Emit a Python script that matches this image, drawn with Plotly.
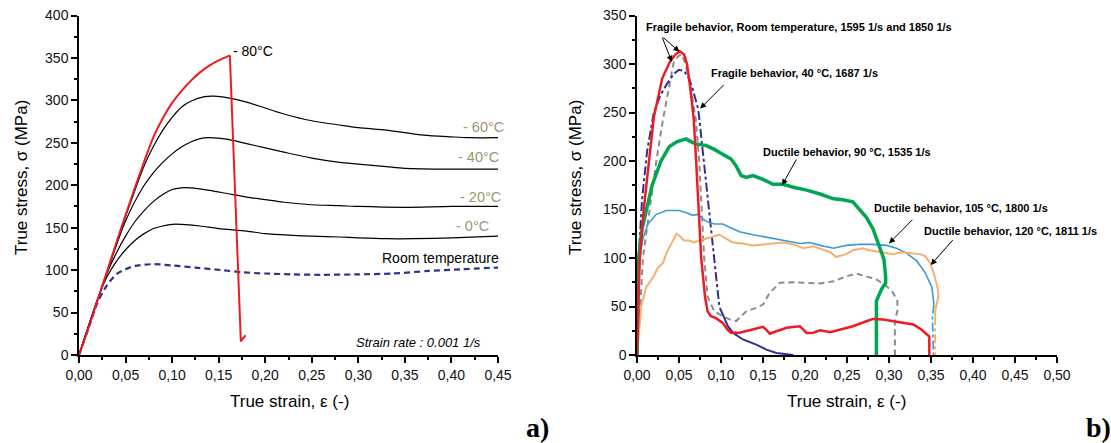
import plotly.graph_objects as go

# ---------------- Panel a) : quasi-static curves ----------------
strain_m80 = [0, 0.01, 0.02, 0.03, 0.04, 0.05, 0.06, 0.07, 0.08, 0.09, 0.10, 0.11, 0.12, 0.13, 0.14, 0.15, 0.162, 0.1738, 0.1788]
stress_m80 = [0, 31, 65, 98, 132, 165, 197, 228, 257, 279, 297, 311, 323, 333, 341, 347, 353, 16, 23]

strain_m60 = [0, 0.03, 0.05, 0.07, 0.08, 0.09, 0.10, 0.11, 0.12, 0.135, 0.145, 0.16, 0.18, 0.20, 0.22, 0.25, 0.28, 0.30, 0.33, 0.35, 0.37, 0.40, 0.42, 0.45]
stress_m60 = [0, 98, 163, 223, 246, 265, 280, 292, 299, 304.5, 305, 303, 298, 291, 284, 276, 271, 268, 265, 262, 259, 257, 256, 256]

strain_m40 = [0, 0.03, 0.05, 0.07, 0.08, 0.09, 0.10, 0.11, 0.12, 0.13, 0.14, 0.16, 0.18, 0.20, 0.22, 0.25, 0.28, 0.30, 0.33, 0.35, 0.40, 0.45]
stress_m40 = [0, 97, 158, 200, 215, 227, 237, 245, 251, 255, 256, 254, 249, 244, 239, 232, 227, 225, 222, 220, 219, 219]

strain_m20 = [0, 0.03, 0.04, 0.05, 0.06, 0.07, 0.08, 0.09, 0.10, 0.11, 0.12, 0.14, 0.16, 0.18, 0.20, 0.22, 0.25, 0.28, 0.30, 0.35, 0.40, 0.45]
stress_m20 = [0, 96, 120, 140, 157, 170, 181, 189, 195, 197, 197, 194, 190, 186, 183, 180, 177, 176, 175, 174, 175, 175]

strain_0 = [0, 0.02, 0.03, 0.04, 0.05, 0.06, 0.07, 0.08, 0.09, 0.10, 0.11, 0.13, 0.15, 0.18, 0.20, 0.23, 0.25, 0.28, 0.30, 0.33, 0.36, 0.40, 0.45]
stress_0 = [0, 66, 92, 110, 124, 135, 143, 149, 152, 154, 154, 152, 149, 146, 143, 141, 140, 139, 138, 137, 137, 138, 140]

strain_rt = [0, 0.01, 0.02, 0.03, 0.04, 0.05, 0.06, 0.08, 0.10, 0.125, 0.153, 0.176, 0.20, 0.229, 0.26, 0.298, 0.337, 0.375, 0.41, 0.45]
stress_rt = [0, 31, 62, 82, 95, 101, 105, 107, 105.5, 103, 100, 97.5, 96, 95, 94.5, 95, 96, 99, 101, 103]

# ---------------- Panel b) : dynamic curves ----------------
b_red_x = [0, 0.003, 0.008, 0.014, 0.020, 0.030, 0.039, 0.046, 0.051, 0.056, 0.0595, 0.0635, 0.0676, 0.0704, 0.0732, 0.0764,
           0.081, 0.084, 0.088, 0.094, 0.102, 0.108, 0.112, 0.122, 0.134, 0.146, 0.150, 0.154, 0.158, 0.166, 0.178, 0.194,
           0.202, 0.210, 0.218, 0.230, 0.241, 0.257, 0.273, 0.281, 0.293, 0.305, 0.317, 0.329, 0.339, 0.345, 0.348, 0.348]
b_red_y = [0, 95, 150, 200, 245, 285, 302, 310, 313, 310, 300, 275, 243, 200, 150, 100,
           60, 45, 40, 38, 33, 26, 23, 23, 25.5, 28, 29, 26, 22, 24.5, 28, 29.6,
           22.8, 23, 25.5, 23.4, 26, 29.6, 34.8, 37.2, 36.5, 34.8, 33.8, 31.4, 26, 21, 19, 0]

b_navy_x = [0, 0.002, 0.006, 0.012, 0.020, 0.028, 0.036, 0.044, 0.050, 0.056, 0.062, 0.066, 0.073, 0.0796, 0.086, 0.092, 0.098, 0.103,
            0.108, 0.114, 0.126, 0.142, 0.154, 0.166, 0.186]
b_navy_y = [0, 100, 160, 210, 250, 268, 280, 290, 294, 293, 285, 275, 253, 200, 150, 100, 50, 40,
            30, 23, 16, 10.7, 5.5, 2, 0]

b_gray_x = [0, 0.004, 0.007, 0.015, 0.023, 0.031, 0.038, 0.0435, 0.049, 0.053, 0.058, 0.063, 0.070, 0.074, 0.077, 0.080, 0.084,
            0.092, 0.102, 0.112, 0.118, 0.130, 0.142, 0.150, 0.158, 0.170, 0.186, 0.202, 0.218, 0.234, 0.249, 0.261, 0.273,
            0.285, 0.297, 0.305, 0.310, 0.310, 0.307, 0.307]
b_gray_y = [0, 50, 100, 150, 200, 243, 275, 301, 308, 310, 300, 280, 243, 200, 150, 100, 60,
            45, 40, 36, 35, 45, 48.6, 52, 64, 74.5, 75, 74.5, 73.8, 76, 81, 84, 81,
            78, 71, 64, 55.5, 45, 36.5, 0]

b_green_x = [0, 0.002, 0.006, 0.011, 0.018, 0.0286, 0.0386, 0.048, 0.0585, 0.064, 0.070, 0.082, 0.092, 0.102, 0.112, 0.118,
             0.124, 0.130, 0.138, 0.150, 0.162, 0.174, 0.186, 0.202, 0.218, 0.234, 0.245, 0.257, 0.265, 0.273, 0.281,
             0.289, 0.294, 0.296, 0.296, 0.291, 0.285, 0.285]
b_green_y = [0, 100, 130, 150, 175, 200, 215, 220, 222.8, 220, 217.6, 216, 212, 207, 202, 195,
             185, 183, 185, 181, 176, 176, 173, 170, 166, 161, 160, 158, 150, 142, 130,
             112, 98.6, 81, 74.5, 67.6, 55.5, 0]

b_blue_x = [0, 0.001, 0.003, 0.007, 0.013, 0.023, 0.035, 0.050, 0.058, 0.066, 0.072, 0.082, 0.092, 0.102, 0.112, 0.122,
            0.138, 0.150, 0.162, 0.178, 0.194, 0.206, 0.218, 0.234, 0.249, 0.265, 0.281, 0.297, 0.309, 0.321, 0.333,
            0.343, 0.351, 0.3536]
b_blue_y = [0, 50, 100, 120, 135, 145, 149, 149, 147, 144, 145, 138, 135, 135, 131, 127,
            124, 122, 120, 117, 115, 116, 113, 110, 113, 114, 114, 113, 110, 105, 97,
            85, 70, 52]
b_blue_end_x = [0.3536, 0.3516, 0.353]
b_blue_end_y = [52, 40, 0]

b_orange_x = [0, 0.002, 0.005, 0.011, 0.019, 0.025, 0.031, 0.035, 0.041, 0.047, 0.0505, 0.056, 0.062, 0.068, 0.074, 0.082,
              0.092, 0.098, 0.106, 0.114, 0.126, 0.138, 0.150, 0.162, 0.174, 0.186, 0.198, 0.210, 0.222, 0.230, 0.237,
              0.249, 0.257, 0.269, 0.277, 0.293, 0.305, 0.315, 0.325, 0.337, 0.343, 0.349, 0.353, 0.3576, 0.359, 0.357,
              0.355, 0.3548]
b_orange_y = [0, 20, 50, 70, 80, 90, 95, 105, 115, 125, 123, 118, 118, 116, 118, 120,
              122, 124, 120, 116, 115, 113, 114, 115, 116, 114, 110, 112, 108, 106, 101,
              104, 108, 110, 108, 106, 104, 106, 105, 104, 102, 95, 85, 70, 62, 55,
              45, 40]
b_orange_end_x = [0.3548, 0.355]
b_orange_end_y = [40, 0]

# ---------------- Figure ----------------
FONT = "Liberation Sans, Arial, sans-serif"
fig = go.Figure()


def add(x, y, color, width, dash="solid", xa="x", ya="y", shape="linear"):
    fig.add_trace(go.Scatter(x=x, y=y, mode="lines", xaxis=xa, yaxis=ya, showlegend=False, hoverinfo="skip",
                             line=dict(color=color, width=width, dash=dash, shape=shape, smoothing=0.8)))


# panel a
add(strain_m60, stress_m60, "black", 1.2, shape="spline")
add(strain_m40, stress_m40, "black", 1.2, shape="spline")
add(strain_m20, stress_m20, "black", 1.2, shape="spline")
add(strain_0, stress_0, "black", 1.2, shape="spline")
add(strain_rt, stress_rt, "#2E3192", 2.2, dash="6px,4px", shape="spline")
add(strain_m80[:17], stress_m80[:17], "#ED1C24", 2, shape="spline")
add(strain_m80[16:], stress_m80[16:], "#ED1C24", 2)

# panel b
add(b_gray_x, b_gray_y, "#8C8C8C", 2, dash="6px,4px", xa="x2", ya="y2")
add(b_navy_x[:18], b_navy_y[:18], "#2E3192", 2, dash="dashdot", xa="x2", ya="y2")
add(b_navy_x[17:], b_navy_y[17:], "#2E3192", 2, xa="x2", ya="y2")
add(b_blue_x, b_blue_y, "#3A9AD9", 1.6, xa="x2", ya="y2")
add(b_blue_end_x, b_blue_end_y, "#3A9AD9", 1.6, dash="dashdot", xa="x2", ya="y2")
add(b_orange_x, b_orange_y, "#F5B06E", 2, xa="x2", ya="y2")
add(b_orange_end_x, b_orange_end_y, "#F5B06E", 2, dash="dashdot", xa="x2", ya="y2")
add(b_green_x, b_green_y, "#00A651", 3.5, xa="x2", ya="y2")
add(b_red_x, b_red_y, "#ED1C24", 2.5, xa="x2", ya="y2")

W, H = 1111, 443
y_dom = [88 / H, 427.5 / H]
PX_PER_STRAIN = 419 / 0.45

common_axis = dict(showline=True, linecolor="black", linewidth=1.5, ticks="outside", ticklen=6, tickwidth=1.5,
                   tickcolor="black", showgrid=False, zeroline=False, automargin=False,
                   tickfont=dict(family=FONT, size=14, color="#111"))
minor_axis = dict(ticklen=3, tickwidth=1.5, ticks="outside", tickcolor="black", showgrid=False)

fig.update_layout(
    template="none",
    width=W, height=H, margin=dict(l=0, r=0, t=0, b=0, pad=0, autoexpand=False), plot_bgcolor="white",
    paper_bgcolor="white", separators=", ", font=dict(family=FONT, color="black"),
    xaxis=dict(domain=[79 / W, 498 / W], range=[0, 0.45], anchor="y", tick0=0, dtick=0.05, tickformat=".2f",
               minor=dict(dtick=0.025, **minor_axis), **common_axis),
    yaxis=dict(domain=y_dom, range=[0, 400], anchor="x", tick0=0, dtick=50,
               minor=dict(dtick=25, **minor_axis), **common_axis),
    xaxis2=dict(domain=[637 / W, 1057 / W], range=[0, 0.50], anchor="y2", tick0=0, dtick=0.05, tickformat=".2f",
                minor=dict(dtick=0.025, **minor_axis), **common_axis),
    yaxis2=dict(domain=y_dom, range=[0, 350], anchor="x2", tick0=0, dtick=50,
                minor=dict(dtick=25, **minor_axis), **common_axis),
)

ann = []
# axis titles
for xc in (289 / W, 846 / W):
    ann.append(dict(text="True strain, ε (-)", x=xc, y=(H - 401) / H, xref="paper", yref="paper", showarrow=False,
                    xanchor="center", yanchor="middle", font=dict(family=FONT, size=17, color="black")))
for xc in (21 / W, 575 / W):
    ann.append(dict(text="True stress, σ (MPa)", x=xc, y=(H - 178) / H, xref="paper", yref="paper", showarrow=False,
                    textangle=-90, xanchor="center", yanchor="middle", font=dict(family=FONT, size=17, color="black")))
# panel labels
for txt, xc in (("a)", 537 / W), ("b)", 1098 / W)):
    ann.append(dict(text=txt, x=xc, y=(H - 427) / H, xref="paper", yref="paper", showarrow=False,
                    xanchor="center", yanchor="middle",
                    font=dict(family="Liberation Serif, Times New Roman, serif", size=28, color="black", weight="bold")))

# panel a labels
KHAKI = "#9C9670"
ann.append(dict(text="- 80°C", x=0.1637, y=358.5, xref="x", yref="y", showarrow=False, xanchor="left", yanchor="middle",
                font=dict(family=FONT, size=14, color="black")))
for txt, xr, yv in (("- 60°C", 0.459, 269), ("- 40°C", 0.4529, 233.6), ("- 20°C", 0.4553, 186.5), ("- 0°C", 0.4425, 152.3)):
    ann.append(dict(text=txt, x=min(xr, 0.45), xshift=max(0.0, xr - 0.45) * PX_PER_STRAIN, y=yv, xref="x", yref="y",
                    showarrow=False, xanchor="right", yanchor="middle", font=dict(family=FONT, size=14.5, color=KHAKI)))
ann.append(dict(text="Room temperature", x=0.45, xshift=(0.4529 - 0.45) * PX_PER_STRAIN, y=114.6, xref="x", yref="y",
                showarrow=False, xanchor="right", yanchor="middle", font=dict(family=FONT, size=14, color="black")))
ann.append(dict(text="<i>Strain rate : 0.001 1/s</i>", x=0.4338, y=14.9, xref="x", yref="y", showarrow=False,
                xanchor="right", yanchor="middle", font=dict(family=FONT, size=13, color="black")))

# panel b labels
BFONT = dict(family=FONT, size=11, color="black", weight="bold")
for txt, xl, yv in (("Fragile behavior, Room temperature, 1595 1/s and 1850 1/s", 0.0085, 338.5),
                    ("Fragile behavior, 40 °C, 1687 1/s", 0.0863, 291),
                    ("Ductile behavior, 90 °C, 1535 1/s", 0.148, 209),
                    ("Ductile behavior, 105 °C, 1800 1/s", 0.280, 151.2),
                    ("Ductile behavior, 120 °C, 1811 1/s", 0.3389, 127.8)):
    ann.append(dict(text=txt, x=xl, y=yv, xref="x2", yref="y2", showarrow=False, xanchor="left", yanchor="middle",
                    font=BFONT))

for (hx, hy, tx, ty) in ((0.0414, 302.4, 0.0295, 328.6), (0.0505, 312.7, 0.0295, 328.6), (0.0752, 254, 0.105, 280),
                         (0.1727, 175, 0.1906, 203), (0.300, 115, 0.3297, 141), (0.3497, 92.8, 0.3775, 120)):
    ann.append(dict(text="", x=hx, y=hy, ax=tx, ay=ty, xref="x2", yref="y2", axref="x2", ayref="y2", showarrow=True,
                    arrowhead=2, arrowsize=1.2, arrowwidth=1, arrowcolor="black", standoff=0, startstandoff=0))

fig.update_layout(annotations=ann)
fig.write_html("out.html")
